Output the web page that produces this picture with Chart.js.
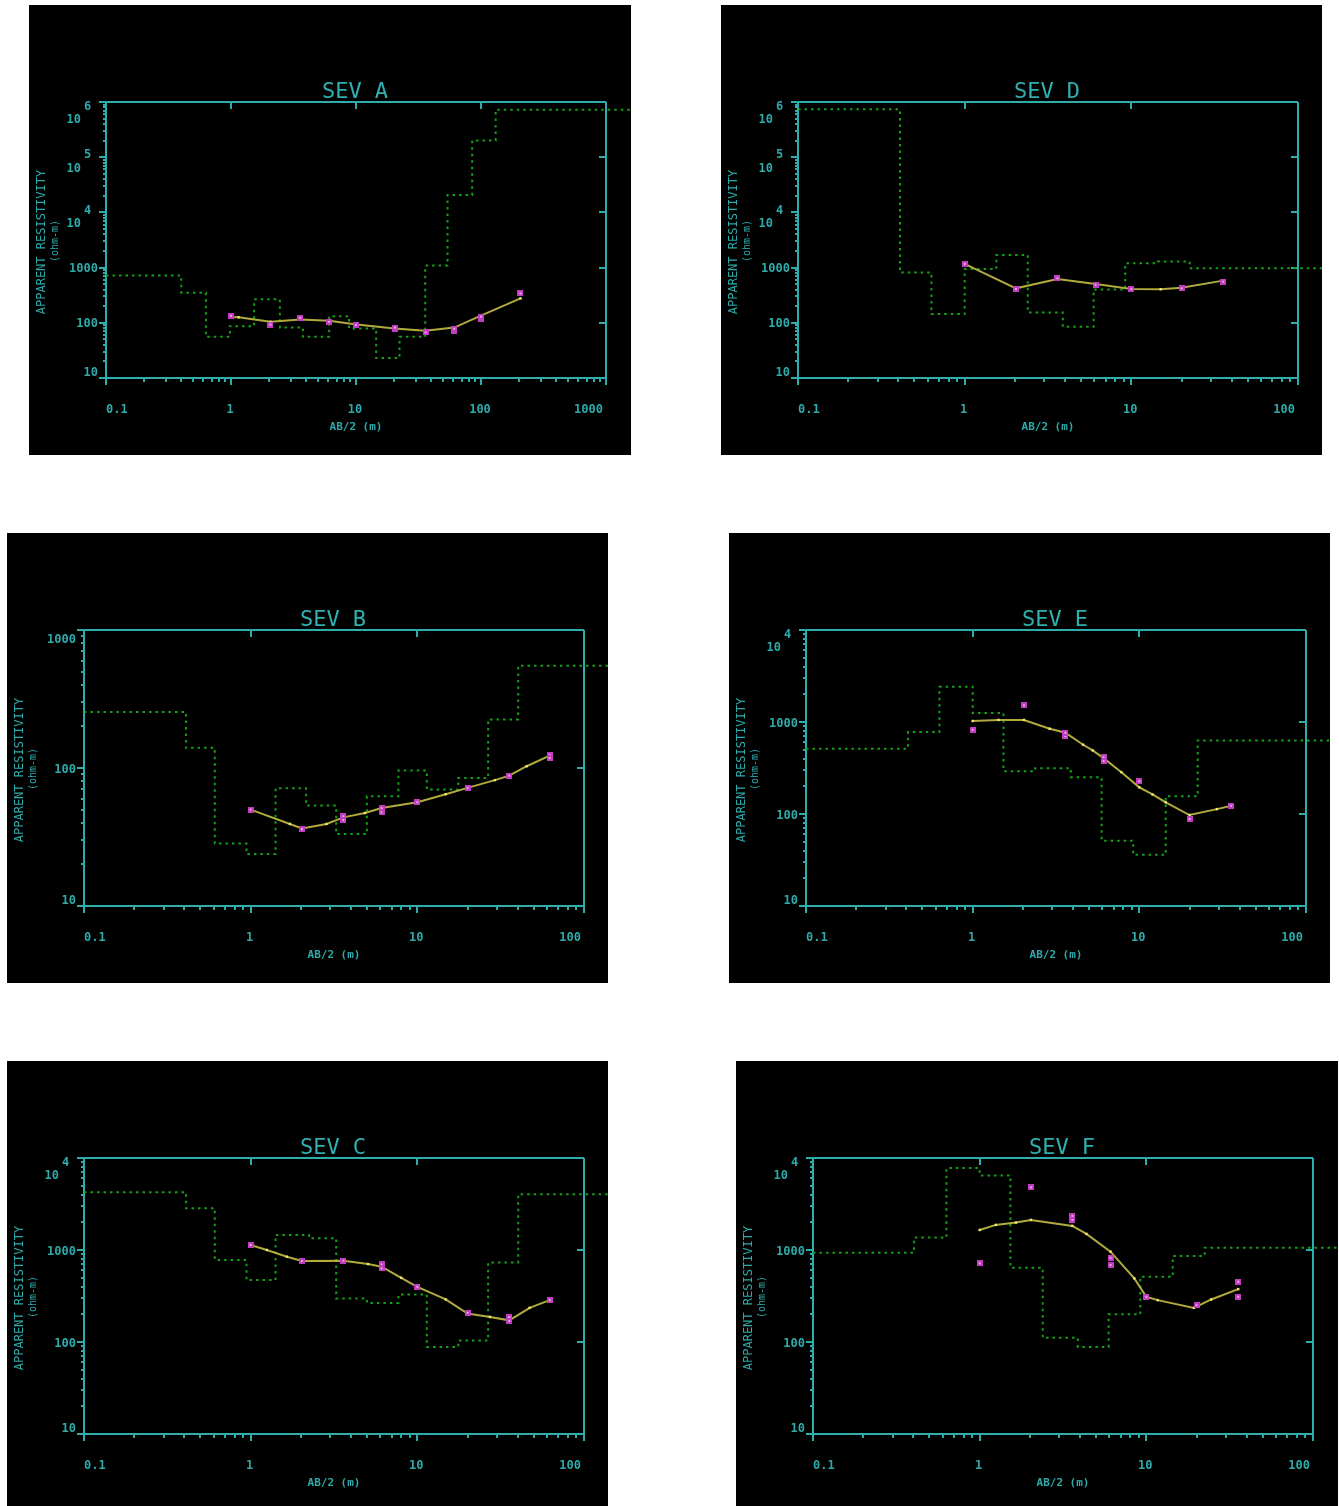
<!DOCTYPE html>
<html><head><meta charset="utf-8">
<script src="https://cdn.jsdelivr.net/npm/chart.js@4.4.0/dist/chart.umd.min.js"></script>
<style>
html,body{margin:0;padding:0;background:#fff;overflow:hidden;width:1339px;height:1506px;}
.panel{position:absolute;background:#000;overflow:hidden;}
canvas{display:block;}
</style></head><body>
<script>
// ---------- tick values ----------
const X_TICKS_4DEC = [0.1, 1, 10, 100, 1000];
const X_TICKS_3DEC = [0.1, 1, 10, 100];
const Y_TICKS_6 = [10, 100, 1000, 1e4, 1e5, 1e6];
const Y_TICKS_4 = [10, 100, 1000, 1e4];
const Y_TICKS_3 = [10, 100, 1000];

// ---------- SEV A ----------
const A_layerX   = [0.1, 0.40, 0.63, 0.98, 1.53, 2.46, 3.76, 6.1, 8.8, 14.5, 22.3, 35.8, 54, 85, 131, 3000];
const A_layerRho = [716, 351, 55.6, 87, 266, 82, 55.6, 132, 79, 23, 55.6, 1087, 20650, 201000, 725000, 725000];
const A_fitX     = [1, 1.15, 2.07, 3.58, 6.1, 10.1, 20.3, 35.8, 61, 102, 207];
const A_fitRho   = [128, 126, 104, 115, 109, 93, 79, 72, 82, 138, 277];
const A_obsX     = [1, 2.07, 3.58, 6.1, 10, 20.5, 20.5, 36, 61, 61, 100, 100, 207];
const A_obsRho   = [134, 93, 123, 104, 91, 76, 82, 67, 71, 78, 119, 130, 341];

// ---------- SEV D ----------
const D_layerX   = [0.1, 0.409, 0.632, 1.0, 1.55, 2.39, 3.88, 5.94, 9.19, 14.4, 22.4, 300];
const D_layerRho = [736000, 811, 144, 946, 1700, 154, 84.5, 403, 1200, 1285, 973, 973];
const D_fitX     = [1, 2.03, 3.6, 6.1, 10, 15, 20, 35.6];
const D_fitRho   = [1167, 421, 622, 505, 409, 406, 433, 581];
const D_obsX     = [1, 2.03, 3.6, 6.1, 10, 20, 35.6];
const D_obsRho   = [1167, 409, 640, 491, 409, 421, 556];

// ---------- SEV B ----------
const B_layerX   = [0.1, 0.409, 0.609, 0.944, 1.41, 2.15, 3.26, 4.98, 7.7, 11.4, 17.6, 26.6, 40.3, 300];
const B_layerRho = [255, 140, 28.4, 23.8, 71.3, 53.4, 33.2, 62.4, 95.9, 69.8, 84.7, 225, 550, 550];
const B_fitX     = [1, 1.72, 2.03, 2.85, 3.6, 4.85, 6.1, 10, 14.8, 20, 29.2, 35.6, 45.3, 62.2];
const B_fitRho   = [49.9, 39.3, 36.5, 39.3, 43.9, 47.2, 51.3, 56.5, 64.6, 71.8, 81.7, 88.1, 103, 123];
const B_obsX     = [1, 2.03, 3.6, 3.6, 6.1, 6.1, 10, 20, 35.6, 62.2, 62.2];
const B_obsRho   = [49.9, 36.1, 44.7, 42, 51.3, 47.7, 56.5, 71.8, 88.1, 124, 118];

// ---------- SEV E ----------
const E_layerX   = [0.1, 0.409, 0.632, 1.0, 1.53, 2.37, 3.88, 5.94, 9.19, 14.4, 22.4, 300];
const E_layerRho = [512, 778, 2410, 1253, 292, 315, 251, 51.2, 36, 156, 631, 631];
const E_fitX     = [1, 1.43, 2.03, 2.9, 3.6, 4.6, 5.25, 6.1, 7.8, 10, 12, 14.4, 20, 29.2, 35.6];
const E_fitRho   = [1026, 1053, 1053, 845, 765, 566, 491, 405, 285, 195, 163, 134, 97.5, 113, 123];
const E_obsX     = [1, 2.03, 3.6, 3.6, 6.1, 6.1, 10, 20, 35.6];
const E_obsRho   = [824, 1520, 698, 762, 415, 376, 227, 88.2, 123];

// ---------- SEV C ----------
const C_layerX   = [0.1, 0.409, 0.609, 0.944, 1.41, 2.24, 3.26, 4.98, 7.7, 11.4, 17.6, 26.6, 40.3, 300];
const C_layerRho = [4256, 2850, 778, 471, 1459, 1340, 297, 266, 328, 88.2, 104, 733, 4045, 4045];
const C_fitX     = [1, 1.25, 1.65, 2.03, 3.6, 5.06, 6.1, 8.0, 10, 14.8, 20, 27.3, 35.6, 47.2, 62.2];
const C_fitRho   = [1135, 1000, 845, 759, 766, 703, 658, 499, 398, 290, 204, 187, 172, 235, 285];
const C_obsX     = [1, 2.03, 3.6, 6.1, 6.1, 10, 20, 35.6, 35.6, 62.2];
const C_obsRho   = [1135, 759, 766, 698, 631, 398, 207, 187, 169, 285];

// ---------- SEV F ----------
const F_layerX   = [0.1, 0.404, 0.632, 1.0, 1.53, 2.39, 3.88, 5.94, 9.2, 14.4, 22.4, 300];
const F_layerRho = [935, 1365, 7780, 6470, 641, 111, 88.2, 200, 512, 861, 1059, 1059];
const F_fitX     = [1, 1.25, 1.65, 2.03, 3.6, 4.37, 6.1, 8.47, 10, 11.7, 19.3, 24.5, 35.6];
const F_fitRho   = [1652, 1875, 1986, 2124, 1828, 1496, 959, 491, 310, 285, 235, 290, 376];
const F_obsX     = [1, 2.03, 3.6, 3.6, 6.1, 6.1, 10, 20, 35.6, 35.6];
const F_obsRho   = [716, 4787, 2350, 2124, 824, 686, 310, 251, 452, 310];

// ---------- text ----------
const TITLE_PREFIX = 'SEV';
const Y_TITLE = 'APPARENT RESISTIVITY';
const Y_UNIT = '(ohm-m)';
const X_TITLE = 'AB/2 (m)';

// ---------- layout table ----------
const PANELS = [
  {name:'A', left:29,  top:5,    w:602, h:450, xT:X_TICKS_4DEC, yT:Y_TICKS_6, lx:A_layerX, ly:A_layerRho, fx:A_fitX, fy:A_fitRho, ox:A_obsX, oy:A_obsRho},
  {name:'D', left:721, top:5,    w:601, h:450, xT:X_TICKS_3DEC, yT:Y_TICKS_6, lx:D_layerX, ly:D_layerRho, fx:D_fitX, fy:D_fitRho, ox:D_obsX, oy:D_obsRho},
  {name:'B', left:7,   top:533,  w:601, h:450, xT:X_TICKS_3DEC, yT:Y_TICKS_3, lx:B_layerX, ly:B_layerRho, fx:B_fitX, fy:B_fitRho, ox:B_obsX, oy:B_obsRho},
  {name:'E', left:729, top:533,  w:601, h:450, xT:X_TICKS_3DEC, yT:Y_TICKS_4, lx:E_layerX, ly:E_layerRho, fx:E_fitX, fy:E_fitRho, ox:E_obsX, oy:E_obsRho},
  {name:'C', left:7,   top:1061, w:601, h:450, xT:X_TICKS_3DEC, yT:Y_TICKS_4, lx:C_layerX, ly:C_layerRho, fx:C_fitX, fy:C_fitRho, ox:C_obsX, oy:C_obsRho},
  {name:'F', left:736, top:1061, w:602, h:450, xT:X_TICKS_3DEC, yT:Y_TICKS_4, lx:F_layerX, ly:F_layerRho, fx:F_fitX, fy:F_fitRho, ox:F_obsX, oy:F_obsRho}
];

const LINE = '#2eadad', TEXT = '#2eaaaa', MONO = '"DejaVu Sans Mono", monospace';

function pts(xs, ys){ return xs.map((x,i)=>({x:x, y:ys[i]})); }

function makeMarker(){
  const c = document.createElement('canvas'); c.width = 6; c.height = 6;
  const g = c.getContext('2d');
  g.fillStyle = '#c23cc2'; g.fillRect(0,0,6,6);
  g.fillStyle = '#e9a3e9'; g.fillRect(2,2,2,2);
  return c;
}
const MARKER = makeMarker();

const framePlugin = {
  id: 'sevFrame',
  beforeDatasetsDraw(chart, args, o) {
    const ctx = chart.ctx, a = chart.chartArea, xs = chart.scales.x, ys = chart.scales.y;
    const L = a.left, R = a.right, T = a.top, B = a.bottom;
    ctx.save();
    ctx.strokeStyle = LINE; ctx.lineWidth = 2; ctx.lineCap = 'butt';
    ctx.beginPath();
    ctx.moveTo(L-7,T); ctx.lineTo(R,T);
    ctx.moveTo(L-7,B); ctx.lineTo(R,B);
    ctx.moveTo(L,T); ctx.lineTo(L,B+7);
    ctx.moveTo(R,T); ctx.lineTo(R,B+7);
    const yT = o.yT, xT = o.xT;
    yT.forEach((v,i) => {
      const py = Math.round(ys.getPixelForValue(v));
      ctx.moveTo(L-7,py); ctx.lineTo(L,py);
      ctx.moveTo(R-7,py); ctx.lineTo(R,py);
      if (i < yT.length-1) for (let m=2;m<=9;m++){
        const q = Math.round(ys.getPixelForValue(m*v));
        ctx.moveTo(L-3,q); ctx.lineTo(L,q);
      }
    });
    xT.forEach((v,i) => {
      const px = Math.round(xs.getPixelForValue(v));
      ctx.moveTo(px,T); ctx.lineTo(px,T+7);
      ctx.moveTo(px,B); ctx.lineTo(px,B+7);
      if (i < xT.length-1) for (let m=2;m<=9;m++){
        const q = Math.round(xs.getPixelForValue(m*v));
        ctx.moveTo(q,B); ctx.lineTo(q,B+4);
      }
    });
    ctx.stroke();

    // y tick labels
    ctx.fillStyle = TEXT; ctx.textBaseline = 'middle';
    ctx.font = 'bold 12px ' + MONO;
    yT.forEach((v,i) => {
      const py = ys.getPixelForValue(v);
      const e = Math.round(Math.log10(v));
      const isTop = i === yT.length-1, isBot = i === 0;
      if (e <= 3) {
        let cy = py + 1.5;
        if (isTop) cy = T + 9.5;
        if (isBot) cy = B - 5;
        ctx.textAlign = 'right'; ctx.fillText(String(v), L-8, cy);
      } else {
        let ey = py - 2, ty = py + 11.5;
        if (isTop) { ey = T + 4.5; ty = T + 18; }
        ctx.textAlign = 'left'; ctx.fillText(String(e), L-22, ey);
        ctx.textAlign = 'right'; ctx.fillText('10', L-25, ty);
      }
    });
    // x tick labels
    xT.forEach((v,i) => {
      const px = xs.getPixelForValue(v);
      const s = String(v);
      if (i === 0) { ctx.textAlign = 'left'; ctx.fillText(s, px, B+32); }
      else if (i === xT.length-1) { ctx.textAlign = 'right'; ctx.fillText(s, R-3, B+32); }
      else { ctx.textAlign = 'center'; ctx.fillText(s, px-1, B+32); }
    });
    // x title
    ctx.font = 'bold 11px ' + MONO; ctx.textAlign = 'center';
    ctx.fillText(X_TITLE, (L+R)/2, B+49);
    // title
    ctx.font = '22px ' + MONO; ctx.fillStyle = '#2fb0b0';
    ctx.fillText(TITLE_PREFIX + ' ' + o.name, (L+R)/2 - 1, T - 9.5);
    // y title
    ctx.fillStyle = TEXT;
    ctx.save();
    ctx.translate(13, (T+B)/2 + 2); ctx.rotate(-Math.PI/2);
    ctx.font = '12px ' + MONO; ctx.textAlign = 'center';
    ctx.fillText(Y_TITLE, 0, 0);
    ctx.restore();
    ctx.save();
    ctx.translate(26, (T+B)/2 + 1); ctx.rotate(-Math.PI/2);
    ctx.font = '10px ' + MONO; ctx.textAlign = 'center';
    ctx.fillText(Y_UNIT, 0, 0);
    ctx.restore();
    ctx.restore();
  }
};

PANELS.forEach(p => {
  const div = document.createElement('div');
  div.className = 'panel';
  div.style.left = p.left + 'px'; div.style.top = p.top + 'px';
  div.style.width = p.w + 'px'; div.style.height = p.h + 'px';
  const cv = document.createElement('canvas');
  cv.width = p.w; cv.height = p.h;
  cv.style.width = p.w + 'px'; cv.style.height = p.h + 'px';
  div.appendChild(cv);
  document.body.appendChild(div);

  new Chart(cv.getContext('2d'), {
    type: 'line',
    data: {
      datasets: [
        { label:'observed', data: pts(p.ox, p.oy), showLine:false,
          pointStyle: MARKER, pointRadius: 3, borderColor:'#c23cc2', backgroundColor:'#c23cc2' },
        { label:'computed', data: pts(p.fx, p.fy), borderColor:'#b0ab3c', borderWidth:2, tension:0,
          pointStyle:'rect', pointRadius:1.7, pointBorderWidth:0, pointBackgroundColor:'#ecea6c' },
        { label:'model', data: pts(p.lx, p.ly), stepped:'before', borderColor:'#16a016', borderWidth:2,
          borderDash:[2.5,4], pointRadius:0, clip:false }
      ]
    },
    options: {
      responsive:false, animation:false, devicePixelRatio:1, events:[],
      layout: { padding: { left:77, top:97, right:p.w-577, bottom:p.h-373 } },
      plugins: { legend:{display:false}, tooltip:{enabled:false}, title:{display:false},
        sevFrame: { xT:p.xT, yT:p.yT, name:p.name } },
      scales: {
        x: { type:'logarithmic', min:p.xT[0], max:p.xT[p.xT.length-1], display:false },
        y: { type:'logarithmic', min:p.yT[0], max:p.yT[p.yT.length-1], display:false }
      }
    },
    plugins: [framePlugin]
  });
});
</script>
</body></html>
